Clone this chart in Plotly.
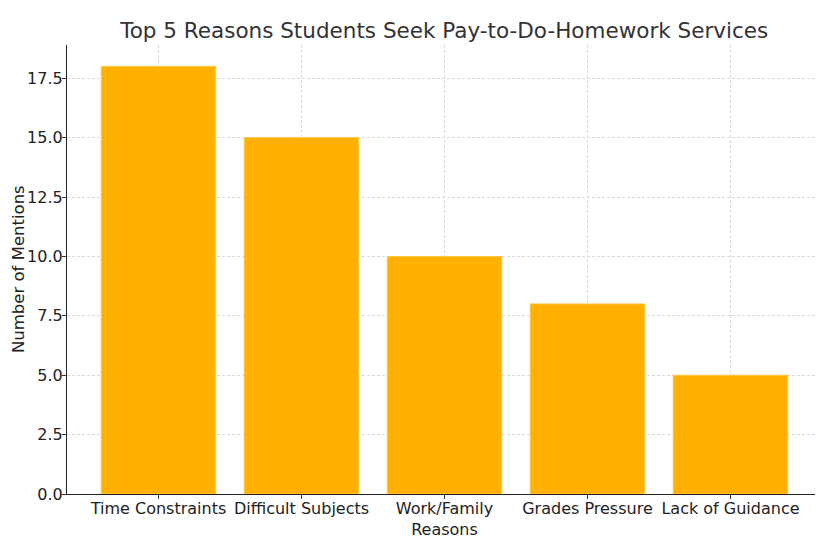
import plotly.graph_objects as go

reasons = ['Time Constraints', 'Difficult Subjects', 'Work/Family<br>Reasons',
           'Grades Pressure', 'Lack of Guidance']
mentions = [18, 15, 10, 8, 5]
y_ticks = [0.0, 2.5, 5.0, 7.5, 10.0, 12.5, 15.0, 17.5]

# the page body has an 8px margin, so the figure sits 8px right and down
fig = go.Figure(
    go.Bar(
        x=list(range(len(reasons))),
        y=mentions,
        width=0.8,
        marker={'color': '#FFB000', 'line': {'color': '#FFC640', 'width': 1}},
    )
)

grid = {'showgrid': True, 'gridcolor': '#d9d9d9', 'griddash': '3px,2px', 'gridwidth': 0.8}

fig.update_layout(
    width=823,
    height=543,
    margin={'l': 59, 'r': 9, 't': 37, 'b': 57},
    paper_bgcolor='white',
    plot_bgcolor='white',
    showlegend=False,
    font={'family': 'DejaVu Sans', 'size': 16, 'color': '#222'},
    title={'text': 'Top 5 Reasons Students Seek Pay-to-Do-Homework Services',
           'x': 0.53, 'xanchor': 'center', 'y': 0.958, 'yanchor': 'middle',
           'font': {'size': 21.5, 'color': '#333'}},
    xaxis={
        'range': [-0.64, 4.64],
        'tickvals': list(range(len(reasons))),
        'ticktext': reasons,
        'tickfont': {'size': 16},
        'ticks': 'outside', 'ticklen': 4, 'tickcolor': '#333',
        'ticklabelstandoff': -4,
        'showline': True, 'linecolor': '#222', 'linewidth': 1.2,
        'zeroline': False, 'layer': 'above traces', 'automargin': False,
        **grid,
    },
    yaxis={
        'range': [0, 18.9],
        'tickvals': y_ticks,
        'ticktext': [f'{v:.1f}' for v in y_ticks],
        'tickfont': {'size': 16},
        'ticks': 'outside', 'ticklen': 4, 'tickcolor': '#333',
        'ticklabelstandoff': -4,
        'showline': True, 'linecolor': '#222', 'linewidth': 1.2,
        'zeroline': False, 'layer': 'above traces', 'automargin': False,
        **grid,
    },
    annotations=[{
        'text': 'Number of Mentions', 'textangle': -90,
        'xref': 'paper', 'yref': 'paper', 'x': -0.0781, 'y': 0.5,
        'xanchor': 'left', 'yanchor': 'middle', 'showarrow': False,
        'borderpad': 0, 'font': {'size': 16.5},
    }],
)

fig.write_html('out.html')
